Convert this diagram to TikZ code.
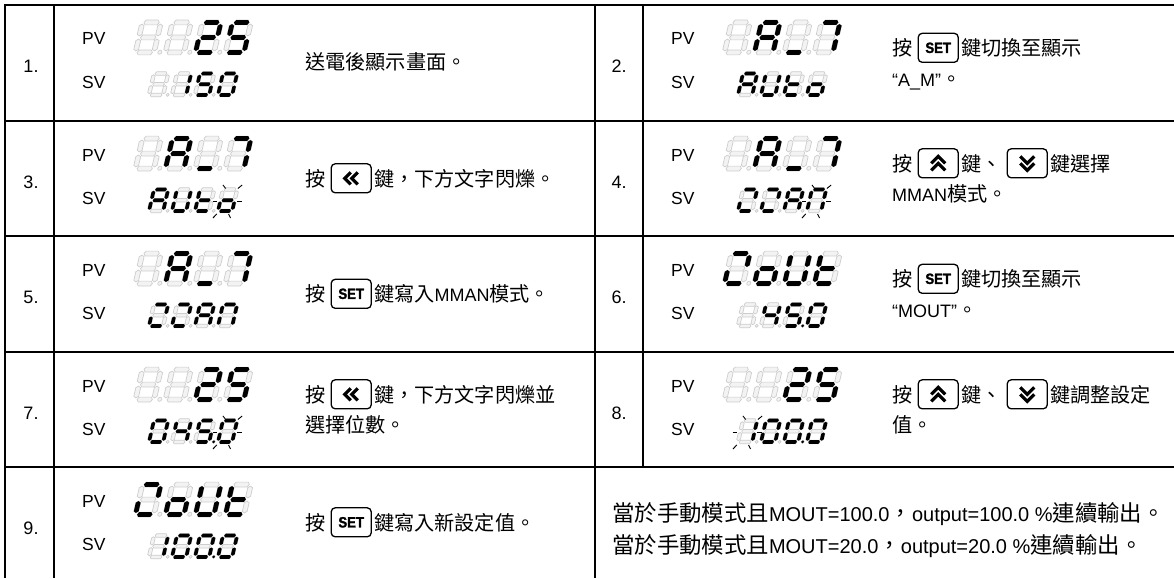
\documentclass[tikz,border=0pt]{standalone}
\usepackage{fontspec}
\setmainfont{Liberation Sans}
\newfontfamily\cjkfont[Scale=1.12]{Noto Sans CJK TC}
\newfontfamily\keyfont[FakeStretch=0.88,FakeBold=1.5]{Liberation Sans}
\newcommand\zh[1]{{\cjkfont #1}}
\usetikzlibrary{calc}
\definecolor{ghline}{RGB}{205,205,205}
\definecolor{ghfill}{RGB}{243,243,243}
% hexagonal segments: style, x1, x2, y  /  style, x, y1, y2 ; \zK = tip length
\def\hseg#1#2#3#4{\path[#1] ({#2},{#4}) -- ({#2+\zK},{#4-\zT/2}) -- ({#3-\zK},{#4-\zT/2}) -- ({#3},{#4}) -- ({#3-\zK},{#4+\zT/2}) -- ({#2+\zK},{#4+\zT/2}) -- cycle;}
\def\vseg#1#2#3#4{\path[#1] ({#2},{#3}) -- ({#2+\zT/2},{#3+\zK}) -- ({#2+\zT/2},{#4-\zK}) -- ({#2},{#4}) -- ({#2-\zT/2},{#4-\zK}) -- ({#2-\zT/2},{#3+\zK}) -- cycle;}
\def\zza#1{\hseg{#1}{\zG}{\zW-\zG}{-\zH}}
\def\zzb#1{\vseg{#1}{\zW}{-\zH+\zG}{-\zH/2-\zG}}
\def\zzc#1{\vseg{#1}{\zW}{-\zH/2+\zG}{-\zG}}
\def\zzd#1{\hseg{#1}{\zG}{\zW-\zG}{0}}
\def\zze#1{\vseg{#1}{0}{-\zH/2+\zG}{-\zG}}
\def\zzf#1{\vseg{#1}{0}{-\zH+\zG}{-\zH/2-\zG}}
\def\zzg#1{\hseg{#1}{\zG}{\zW-\zG}{-\zH/2}}
\def\zzp#1{\path[#1] ({(\zP+\zW)/2},{-\zT*0.05}) circle[radius={\zT*0.42}];}
\def\zzx#1{}
\def\zszpv{\def\zP{30}\def\zW{18.5}\def\zH{30}\def\zT{4.8}\def\zG{1.6}\def\zK{1.6}}
\def\zszsv{\def\zP{23}\def\zW{14.2}\def\zH{21.5}\def\zT{3.6}\def\zG{1.3}\def\zK{1.2}}
\def\zslant{0.23}
\newcommand\ssghost[1]{%
  \begin{scope}[xshift={#1*\zP}, xslant=\zslant]
    \foreach \s in {a,b,c,d,e,f,g}{\csname zz\s\endcsname{gho}}%
    \ifnum#1<3 \zzp{gho}\fi
  \end{scope}}
\newcommand\sslit[2]{%
  \begin{scope}[xshift={#1*\zP}, xslant=\zslant]
    \foreach \s in {#2}{\csname zz\s\endcsname{lit}}%
  \end{scope}}
\newcommand\ssblink[1]{%
  \begin{scope}[xshift={(#1-1)*\zP}, xslant=\zslant, line width=0.9pt]
    \draw (-1,{-\zH-4.5}) -- (2.5,{-\zH-1});
    \draw ({\zW+0.5},{-\zH-1}) -- ({\zW+4},{-\zH-4.5});
    \draw ({\zW+3},{-\zH/2+1.5}) -- ({\zW+7.5},{-\zH/2+1.5});
    \draw (-7.5,{-\zH/2+1.5}) -- (-3,{-\zH/2+1.5});
    \draw (-3.5,7) -- (-0.5,3);
    \draw ({\zW-3},3) -- ({\zW},7);
  \end{scope}}
\newcommand\ssdisp[8]{%
  \begin{scope}[shift={({#1},{#2})}]
    \csname zsz#3\endcsname
    \ssghost{0}\ssghost{1}\ssghost{2}\ssghost{3}%
    \sslit{0}{#4}\sslit{1}{#5}\sslit{2}{#6}\sslit{3}{#7}%
    \ifnum#8>0 \ssblink{#8}\fi
  \end{scope}}
\newcommand\pvdisp[7]{\ssdisp{#1+81.5}{#2+47.5}{pv}{#3}{#4}{#5}{#6}{#7}}
\newcommand\svdisp[7]{\ssdisp{#1+95}{#2+90}{sv}{#3}{#4}{#5}{#6}{#7}}
\newcommand\setlogo{{\keyfont\bfseries\fontsize{15}{15}\selectfont SET}}
\begin{document}
\begin{tikzpicture}[x=1pt,y=-1pt,
  tbl/.style={line width=1.8pt},
  lit/.style={fill=black},
  gho/.style={fill=ghfill, draw=ghline, line width=0.7pt},
  num/.style={inner sep=0pt, anchor=base, font=\fontsize{18}{20}\selectfont},
  lbl/.style={inner sep=0pt, anchor=base west, font=\fontsize{17.5}{18}\selectfont},
  txt/.style={inner sep=0pt, anchor=base west, font=\fontsize{18}{22}\selectfont},
  bigtxt/.style={inner sep=0pt, anchor=base west, font=\fontsize{20}{24}\selectfont},
  key/.style={draw, line width=1.3pt, rounded corners=4pt, minimum width=40pt, minimum height=29pt, inner sep=0pt, anchor=west},
  chev/.style={line width=3.2pt, line join=miter, line cap=butt}]
\useasboundingbox (0,0) rectangle (1174,578);
\fill[white] (0,0) rectangle (1174,578);
% table
\draw[tbl] (5,5) -- (1174,5);
\foreach \yy in {121,236,352,467} \draw[tbl] (5,\yy) -- (1174,\yy);
\draw[tbl] (5,4.1) -- (5,578);
\draw[tbl] (54,4.1) -- (54,578);
\draw[tbl] (595,4.1) -- (595,578);
\draw[tbl] (643,4.1) -- (643,467);
% numbers and labels
\foreach \i/\cx/\ty in {1/31/5,2/619/5,3/31/121,4/619/121,5/31/236,6/619/236,7/31/352,8/619/352,9/31/467}{
  \node[num] (n\i) at (\cx,{\ty+67}) {\i.};
}
\foreach \i/\cx/\ty in {1/54/5,2/643/5,3/54/121,4/643/121,5/54/236,6/643/236,7/54/352,8/643/352,9/54/467}{
  \node[lbl] (pv\i) at ({\cx+28},{\ty+40}) {PV};
  \node[lbl] (sv\i) at ({\cx+28},{\ty+83}) {SV};
}
% displays
\pvdisp{54}{5}{x}{x}{a,b,d,e,g}{a,c,d,f,g}{0}
\svdisp{54}{5}{x}{b,c}{a,c,d,f,g}{a,b,c,d,e,f}{0}
\pvdisp{643}{5}{x}{a,b,c,e,f,g}{d}{a,b,c}{0}
\svdisp{643}{5}{a,b,c,e,f,g}{b,c,d,e,f}{d,e,f,g}{c,d,e,g}{0}
\pvdisp{54}{121}{x}{a,b,c,e,f,g}{d}{a,b,c}{0}
\svdisp{54}{121}{a,b,c,e,f,g}{b,c,d,e,f}{d,e,f,g}{c,d,e,g}{4}
\pvdisp{643}{121}{x}{a,b,c,e,f,g}{d}{a,b,c}{0}
\svdisp{643}{121}{a,b,d,e}{a,b,d,e}{a,b,c,e,f,g}{a,b,c,e,f}{4}
\pvdisp{54}{236}{x}{a,b,c,e,f,g}{d}{a,b,c}{0}
\svdisp{54}{236}{a,b,d,e}{a,b,d,e}{a,b,c,e,f,g}{a,b,c,e,f}{0}
\pvdisp{643}{236}{a,b,d,e}{c,d,e,g}{b,c,d,e,f}{d,e,f,g}{0}
\svdisp{643}{236}{x}{b,c,f,g}{a,c,d,f,g,p}{a,b,c,d,e,f}{0}
\pvdisp{54}{352}{x}{x}{a,b,d,e,g}{a,c,d,f,g}{0}
\svdisp{54}{352}{a,b,c,d,e,f}{b,c,f,g}{a,c,d,f,g,p}{a,b,c,d,e,f}{4}
\pvdisp{643}{352}{x}{x}{a,b,d,e,g}{a,c,d,f,g}{0}
\svdisp{643}{352}{b,c}{a,b,c,d,e,f}{a,b,c,d,e,f,p}{a,b,c,d,e,f}{1}
\pvdisp{54}{467}{a,b,d,e}{c,d,e,g}{b,c,d,e,f}{d,e,f,g}{0}
\svdisp{54}{467}{b,c}{a,b,c,d,e,f}{a,b,c,d,e,f,p}{a,b,c,d,e,f}{0}
% row 1
\node[txt] (t1) at (305,70) {\zh{送電後顯示畫面。}};
% row 2
\node[txt] (t2a) at (892,55.5) {\zh{按}};
\node[key] (k2) at ($(t2a.east)+(5,0)$) {\setlogo};
\node[txt] (t2b) at ($(k2.east |- t2a.base)+(2,0)$) {\zh{鍵切換至顯示}};
\node[txt] (t2c) at (892,86) {“A\_M”\zh{。}};
% row 3
\node[txt] (t3a) at (305,186) {\zh{按}};
\node[key] (k3) at ($(t3a.east)+(5,0)$) {};
\draw[chev] ($(k3.center)+(-0.5,-6)$) -- ++(-6,6) -- ++(6,6);
\draw[chev] ($(k3.center)+(6.5,-6)$) -- ++(-6,6) -- ++(6,6);
\node[txt] (t3b) at ($(k3.east |- t3a.base)+(2,0)$) {\zh{鍵，下方文字閃爍。}};
% row 4
\node[txt] (t4a) at (892,171) {\zh{按}};
\node[key] (k4a) at ($(t4a.east)+(5,0)$) {};
\draw[chev] ($(k4a.center)+(-7,0)$) -- ++(7,-7) -- ++(7,7);
\draw[chev] ($(k4a.center)+(-7,7)$) -- ++(7,-7) -- ++(7,7);
\node[txt] (t4b) at ($(k4a.east |- t4a.base)+(2,0)$) {\zh{鍵、}};
\node[key] (k4b) at ($(t4b.east)+(5,0)$) {};
\draw[chev] ($(k4b.center)+(-7,-7)$) -- ++(7,7) -- ++(7,-7);
\draw[chev] ($(k4b.center)+(-7,0)$) -- ++(7,7) -- ++(7,-7);
\node[txt] (t4c) at ($(k4b.east |- t4a.base)+(2,0)$) {\zh{鍵選擇}};
\node[txt] (t4d) at (892,201) {MMAN\zh{模式。}};
% row 5
\node[txt] (t5a) at (305,301.5) {\zh{按}};
\node[key] (k5) at ($(t5a.east)+(5,0)$) {\setlogo};
\node[txt] (t5b) at ($(k5.east |- t5a.base)+(2,0)$) {\zh{鍵寫入}MMAN\zh{模式。}};
% row 6
\node[txt] (t6a) at (892,286.5) {\zh{按}};
\node[key] (k6) at ($(t6a.east)+(5,0)$) {\setlogo};
\node[txt] (t6b) at ($(k6.east |- t6a.base)+(2,0)$) {\zh{鍵切換至顯示}};
\node[txt] (t6c) at (892,317) {“MOUT”\zh{。}};
% row 7
\node[txt] (t7a) at (305,402) {\zh{按}};
\node[key] (k7) at ($(t7a.east)+(5,0)$) {};
\draw[chev] ($(k7.center)+(-0.5,-6)$) -- ++(-6,6) -- ++(6,6);
\draw[chev] ($(k7.center)+(6.5,-6)$) -- ++(-6,6) -- ++(6,6);
\node[txt] (t7b) at ($(k7.east |- t7a.base)+(2,0)$) {\zh{鍵，下方文字閃爍並}};
\node[txt] (t7c) at (305,432) {\zh{選擇位數。}};
% row 8
\node[txt] (t8a) at (892,402) {\zh{按}};
\node[key] (k8a) at ($(t8a.east)+(5,0)$) {};
\draw[chev] ($(k8a.center)+(-7,0)$) -- ++(7,-7) -- ++(7,7);
\draw[chev] ($(k8a.center)+(-7,7)$) -- ++(7,-7) -- ++(7,7);
\node[txt] (t8b) at ($(k8a.east |- t8a.base)+(2,0)$) {\zh{鍵、}};
\node[key] (k8b) at ($(t8b.east)+(5,0)$) {};
\draw[chev] ($(k8b.center)+(-7,-7)$) -- ++(7,7) -- ++(7,-7);
\draw[chev] ($(k8b.center)+(-7,0)$) -- ++(7,7) -- ++(7,-7);
\node[txt] (t8c) at ($(k8b.east |- t8a.base)+(2,0)$) {\zh{鍵調整設定}};
\node[txt] (t8d) at (892,432) {\zh{值。}};
% row 9
\node[txt] (t9a) at (305,530) {\zh{按}};
\node[key] (k9) at ($(t9a.east)+(5,0)$) {\setlogo};
\node[txt] (t9b) at ($(k9.east |- t9a.base)+(2,0)$) {\zh{鍵寫入新設定值。}};
\node[bigtxt] (t9c) at (612,521) {\zh{當於手動模式且}MOUT=100.0\zh{，}output=100.0 \%\zh{連續輸出。}};
\node[bigtxt] (t9d) at (612,553) {\zh{當於手動模式且}MOUT=20.0\zh{，}output=20.0 \%\zh{連續輸出。}};
\end{tikzpicture}
\end{document}
